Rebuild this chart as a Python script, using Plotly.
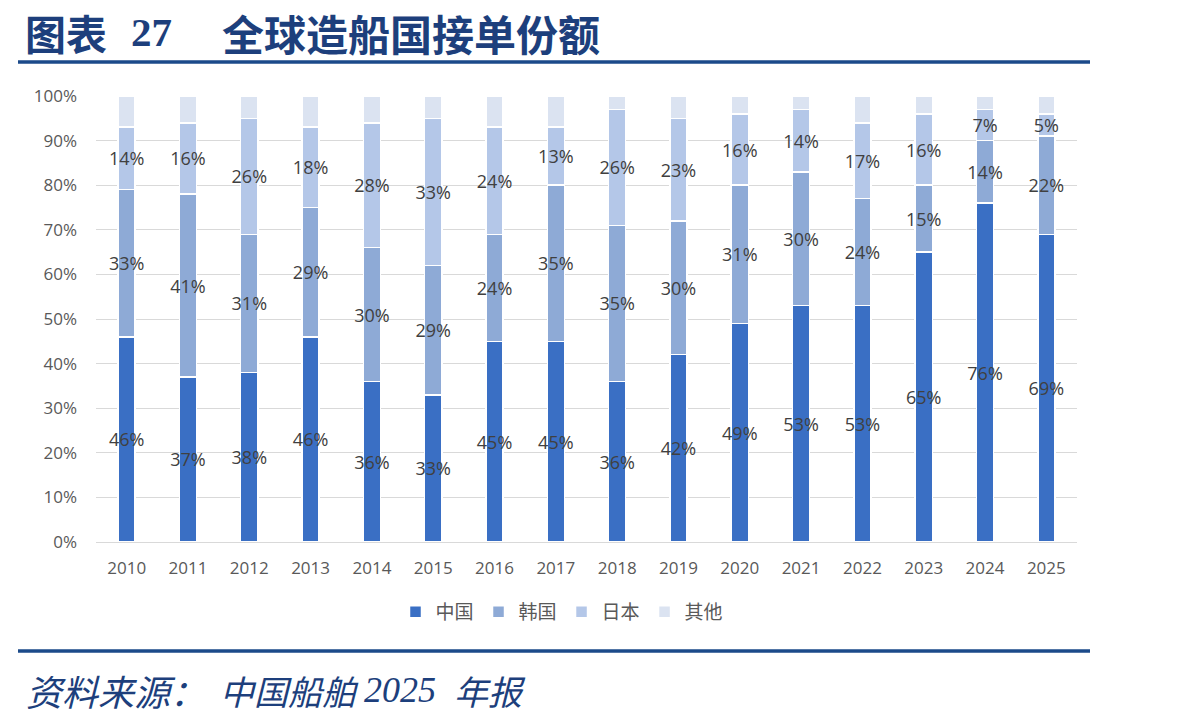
import plotly.graph_objects as go

years = ["2010", "2011", "2012", "2013", "2014", "2015", "2016", "2017",
         "2018", "2019", "2020", "2021", "2022", "2023", "2024", "2025"]
china = [46, 37, 38, 46, 36, 33, 45, 45, 36, 42, 49, 53, 53, 65, 76, 69]
korea = [33, 41, 31, 29, 30, 29, 24, 35, 35, 30, 31, 30, 24, 15, 14, 22]
japan = [14, 16, 26, 18, 28, 33, 24, 13, 26, 23, 16, 14, 17, 16, 7, 5]
other = [7, 6, 5, 7, 6, 5, 7, 7, 3, 5, 4, 3, 6, 4, 3, 4]

series = [
    ("中国", china, "#3a6fc4", True),
    ("韩国", korea, "#8eaad6", True),
    ("日本", japan, "#b4c7e8", True),
    ("其他", other, "#dbe3f1", False),
]

fig = go.Figure()
for name, vals, color, show in series:
    fig.add_trace(go.Bar(
        name=name, x=years, y=vals,
        marker=dict(color=color, line=dict(color="white", width=1.5)),
        text=[f"{v}%" for v in vals] if show else None,
        textposition="inside" if show else "none",
        insidetextanchor="middle",
        textangle=0,
        textfont=dict(family="Open Sans", size=18, color="#404040"),
        cliponaxis=False,
        hoverinfo="skip",
    ))

W, H = 1198, 727
L, R, T, B = 96, 1077, 96, 542
pw, ph = R - L, B - T

def px(x):
    return (x - L) / pw

def py(y):
    return (B - y) / ph

fig.update_layout(
    width=W, height=H,
    margin=dict(l=L, r=W - R, t=T, b=H - B),
    barmode="stack",
    bargap=0.72,
    plot_bgcolor="white",
    paper_bgcolor="white",
    uniformtext=dict(minsize=18, mode="show"),
    font=dict(family="Open Sans, Noto Sans CJK SC", color="#595959"),
    legend=dict(orientation="h", x=px(562), xanchor="center", y=py(612), yanchor="middle",
                font=dict(family="Noto Sans CJK SC", size=19, color="#595959"),
                itemwidth=30, traceorder="normal"),
    xaxis=dict(tickfont=dict(size=17, color="#595959"), showline=False, ticks="",
               ticklabelstandoff=14),
    yaxis=dict(range=[0, 100], dtick=10, ticksuffix="%", showgrid=True, gridcolor="#d9d9d9",
               gridwidth=1, zeroline=True, zerolinecolor="#d9d9d9", zerolinewidth=1,
               tickfont=dict(size=17, color="#595959"), ticklabelstandoff=18),
    showlegend=True,
)

navy = "#1d3f7c"
fig.add_shape(type="line", xref="paper", yref="paper", x0=px(18), x1=px(1090), y0=py(62), y1=py(62),
              line=dict(color="#1b4a8a", width=3.5))
fig.add_shape(type="line", xref="paper", yref="paper", x0=px(18), x1=px(1090), y0=py(651), y1=py(651),
              line=dict(color="#1b4a8a", width=3.5))

title_parts = [("图表", 23, "Noto Sans CJK SC", 41), ("27", 129, "Liberation Serif", 41),
               ("全球造船国接单份额", 220, "Noto Sans CJK SC", 42)]
for txt, x0, fam, sz in title_parts:
    fig.add_annotation(xref="paper", yref="paper", x=px(x0), y=py(32), xanchor="left", yanchor="middle",
                       text=f"<b>{txt}</b>", showarrow=False,
                       font=dict(family=fam, size=sz, color=navy))

src_parts = [("资料来源：", 24, "Noto Sans CJK SC", 36), ("中国船舶", 218, "Noto Sans CJK SC", 34),
             ("2025", 362, "Liberation Serif", 36), ("年报", 452, "Noto Sans CJK SC", 34)]
for txt, x0, fam, sz in src_parts:
    fig.add_annotation(xref="paper", yref="paper", x=px(x0), y=py(690), xanchor="left", yanchor="middle",
                       text=txt, showarrow=False,
                       font=dict(family=fam, size=sz, color=navy, style="italic"))

fig.write_html("out.html")
